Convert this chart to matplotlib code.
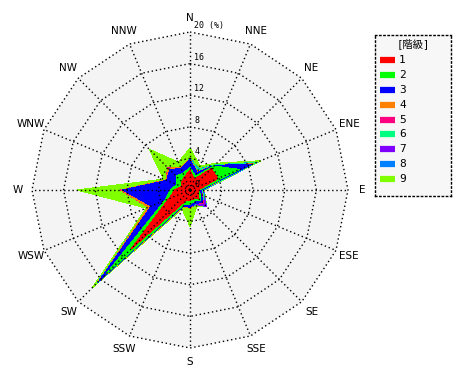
import numpy as np
import matplotlib
matplotlib.use("Agg")
import matplotlib.pyplot as plt

directions = ["N", "NNE", "NE", "ENE", "E", "ESE", "SE", "SSE",
              "S", "SSW", "SW", "WSW", "W", "WNW", "NW", "NNW"]
classes = ["1", "2", "3", "4", "5", "6", "7", "8", "9"]
colors = ["#ff0000", "#00ff00", "#0000ff", "#ff8000", "#ff0080",
          "#00ff80", "#8000ff", "#0080ff", "#80ff00"]

# frequency (%) of each class per direction (N, NNE, ... NNW)
c1 = [2.5, 1.5, 3.8, 3.8, 1.0, 1.2, 1.6, 1.2, 1.3, 1.5, 10.5, 2.9, 1.9, 1.2, 1.5, 1.8]
c2 = [0.3, 0.4, 0.5, 3.0, 0.2, 0.2, 0.3, 0.3, 0.5, 0.5, 4.5, 0.5, 0.6, 0.6, 1.0, 0.5]
c3 = [1.0, 0.5, 0.1, 1.8, 0.2, 0.2, 0.4, 0.3, 0.4, 0.2, 1.2, 1.9, 6.0, 1.4, 1.1, 0.7]
c4 = [0.1, 0.1, 0.0, 0.1, 0.0, 0.0, 0.0, 0.0, 0.1, 0.1, 0.1, 0.4, 0.2, 0.1, 0.3, 0.1]
c5 = [0.0, 0.0, 0.0, 0.0, 0.0, 0.1, 0.1, 0.0, 0.0, 0.0, 0.0, 0.0, 0.1, 0.0, 0.1, 0.0]
c6 = [0.1, 0.3, 0.1, 0.4, 0.2, 0.1, 0.1, 0.1, 0.0, 0.0, 0.1, 0.0, 0.0, 0.0, 0.0, 0.0]
c7 = [0.0, 0.0, 0.0, 0.0, 0.0, 0.1, 0.4, 0.1, 0.0, 0.0, 0.0, 0.0, 0.0, 0.0, 0.0, 0.0]
c8 = [0.0, 0.1, 0.0, 0.1, 0.1, 0.1, 0.05, 0.0, 0.0, 0.0, 0.1, 0.0, 0.0, 0.0, 0.0, 0.0]
c9 = [1.3, 0.4, 0.3, 0.5, 0.1, 0.1, 0.05, 0.2, 2.3, 0.3, 0.9, 0.3, 5.5, 0.3, 3.3, 0.7]
series = [c1, c2, c3, c4, c5, c6, c7, c8, c9]

rings = [4, 8, 12, 16, 20]
ring_labels = ["4", "8", "12", "16", "20 (%)"]
legend_title = "[階級]"

plt.rcParams['font.family'] = ['DejaVu Sans', 'Noto Sans CJK JP']

W, H = 470, 380
fig = plt.figure(figsize=(W / 100, H / 100), dpi=100)
fig.patch.set_facecolor("white")

cx, cy, half = 190, 190, 170
rmax_px = 158.0
lim = half / rmax_px * 20
ax = fig.add_axes([(cx - half) / W, (H - cy - half) / H, 2 * half / W, 2 * half / H])
ax.set_xlim(-lim, lim)
ax.set_ylim(-lim, lim)
ax.set_aspect("equal")
ax.axis("off")

theta = np.deg2rad(np.arange(16) * 22.5)
sx, sy = np.sin(theta), np.cos(theta)

def closed(a):
    return np.append(a, a[0])

# background inside outer ring
ax.fill(closed(20 * sx), closed(20 * sy), color="#f4f4f4", zorder=0, lw=0)

# stacked polygons
cum = np.cumsum(np.array(series), axis=0)
for k in range(len(series) - 1, -1, -1):
    r = cum[k]
    ax.fill(closed(r * sx), closed(r * sy), color=colors[k], lw=0,
            zorder=1 + (9 - k) * 0.01, antialiased=False)

dot = (0, (1, 2))
for rv in rings:
    ax.plot(closed(rv * sx), closed(rv * sy), color="black", lw=1,
            linestyle=dot, zorder=3)
for i in range(16):
    ax.plot([0, 20 * sx[i]], [0, 20 * sy[i]], color="black", lw=1,
            linestyle=dot, zorder=3)

# direction labels
lab_r = 172 / rmax_px * 20
for i, d in enumerate(directions):
    ax.text(lab_r * sx[i], lab_r * sy[i], d, ha="center", va="center",
            fontsize=7.5, family="DejaVu Sans", zorder=4)

# ring labels
for rv, lb in zip(rings, ring_labels):
    ax.text(0.55, rv + 0.25, lb, ha="left", va="bottom", fontsize=6,
            family="DejaVu Sans Mono", zorder=4)
ax.text(0.55, 0.1, "0", ha="left", va="bottom", fontsize=6,
        family="DejaVu Sans Mono", zorder=4)

# legend
lx0, ly0, lx1, ly1 = 375, 35, 451, 196
lax = fig.add_axes([lx0 / W, (H - ly1) / H, (lx1 - lx0) / W, (ly1 - ly0) / H])
lax.set_xlim(lx0, lx1)
lax.set_ylim(ly1, ly0)
lax.set_facecolor("#f7f7f7")
for s in lax.spines.values():
    s.set_linestyle(dot)
    s.set_linewidth(1)
lax.set_xticks([])
lax.set_yticks([])
lax.text((lx0 + lx1) / 2, 44, legend_title, ha="center", va="center",
         fontsize=7.5, family=["DejaVu Sans Mono", "Noto Sans CJK JP"])
for k, (c, name) in enumerate(zip(colors, classes)):
    y = 60 + k * 14.9
    lax.plot([380, 395], [y, y], color=c, lw=4.5, solid_capstyle="butt")
    lax.text(399, y, name, ha="left", va="center", fontsize=8,
             family="DejaVu Sans Mono")

fig.savefig("out.png", dpi=100)
